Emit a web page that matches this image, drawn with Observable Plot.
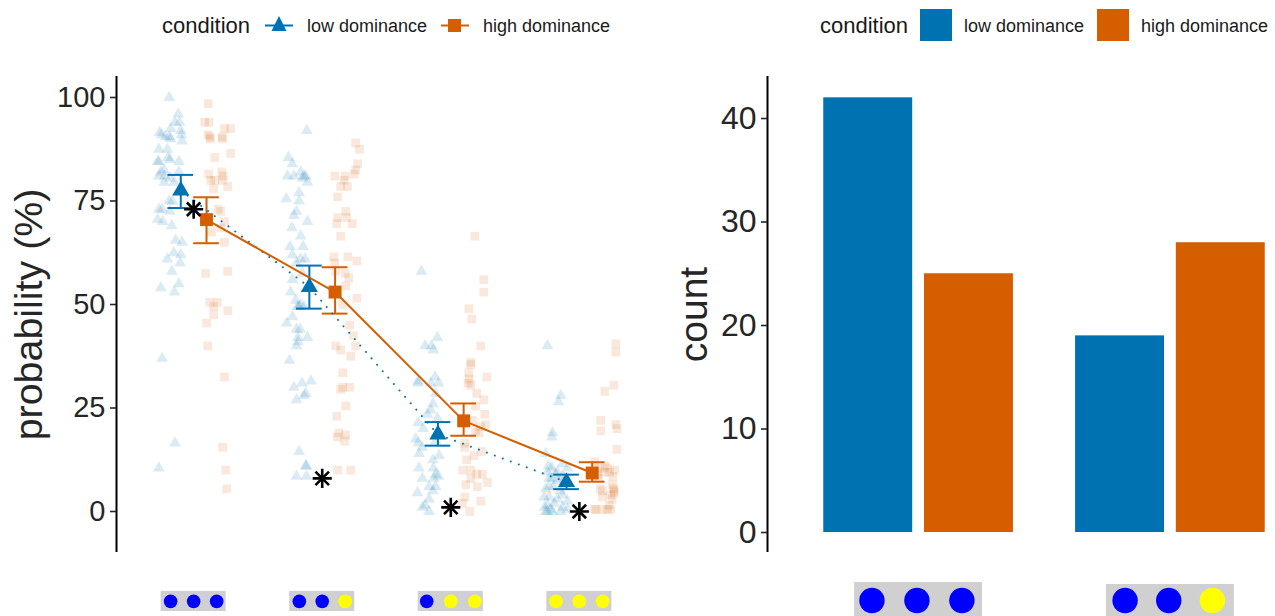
<!DOCTYPE html>
<html><head><meta charset="utf-8">
<script src="https://cdn.jsdelivr.net/npm/d3@7"></script>
<script src="https://cdn.jsdelivr.net/npm/@observablehq/plot@0.6"></script>
<style>
html,body{margin:0;padding:0;background:#fff;}
#page{position:relative;width:1275px;height:616px;overflow:hidden;font-family:"Liberation Sans",Arial,sans-serif;color:#1a1a1a;}
.lg{position:absolute;line-height:1;white-space:nowrap;}
.sw{position:absolute;width:32px;height:32px;top:9px;}
</style></head><body><div id="page"></div>
<script>
const conditions = ["low dominance", "high dominance"];
const blue = "#0072B2", orange = "#D55E00";
const probTicks = [0, 25, 50, 75, 100];
const countTicks = [0, 10, 20, 30, 40];

// observations: [jittered group position, probability %]
const lowPoints = [
 // group 1
 [.81,100],[.88,96],[.855,94],[.89,94],[.82,92.5],[.735,91.5],[.90,92],[.75,91],[.81,90.5],[.78,90.5],[.905,91],[.82,90],[.91,89.5],[.73,87.5],[.795,87.5],[.72,84.5],[.80,85.5],[.815,85],[.885,84.5],[.73,84.5],[.885,82],[.77,82.5],[.745,82],[.73,81],[.775,81],[.815,80.5],[.77,79.5],[.85,79.5],[.81,75],[.835,75],[.73,73],[.755,73],[.815,72.5],[.72,70.5],[.76,70],[.83,69],[.86,65.5],[.91,65],[.845,62.5],[.90,62],[.795,61],[.895,60],[.83,58],[.885,55],[.745,54],[.85,53],[.755,37],[.855,16.5],[.73,10.5],
 // group 2
 [1.88,92],[1.737,85.5],[1.768,84],[1.833,82],[1.78,81],[1.729,81],[1.859,81],[1.872,81],[1.846,80.5],[1.885,79.5],[1.82,77],[1.721,75.5],[1.82,75],[1.80,72.5],[1.78,71.5],[1.885,70],[1.765,68.5],[1.833,66.5],[1.75,64],[1.851,64],[1.768,62],[1.833,61],[1.867,61],[1.80,60],[1.846,57.5],[1.768,56],[1.755,53],[1.794,51],[1.807,49.5],[1.859,49.5],[1.833,50],[1.82,49.5],[1.768,47],[1.724,45.5],[1.80,44],[1.828,44],[1.812,42],[1.885,42],[1.812,41],[1.80,40],[1.745,36.5],[1.78,30],[1.843,31],[1.913,31.5],[1.872,28.5],[1.859,28],[1.80,27],[1.82,14.5],[1.872,11],[1.877,11],[1.80,8.5],[1.877,8.5],
 // group 3
 [2.772,58],[2.896,42],[2.80,40],[2.85,40],[2.865,39],[2.746,31.5],[2.878,32.5],[2.844,31],[2.904,31],[2.746,31],[2.883,28.5],[2.862,26],[2.844,24.5],[2.818,23.5],[2.896,22.5],[2.746,21.5],[2.785,20],[2.728,17.5],[2.746,16.5],[2.779,15.5],[2.753,14],[2.883,17],[2.909,13.5],[2.862,12.5],[2.753,10.5],[2.865,10.5],[2.883,9],[2.904,8.5],[2.779,8],[2.87,8],[2.831,6],[2.883,6],[2.74,4.5],[2.862,5],[2.831,3],[2.80,1.5],[2.779,1],[2.831,0],
 // group 4
 [3.752,40],[3.856,28],[3.838,26.5],[3.791,19],[3.786,18],[3.739,14],[3.786,10.5],[3.869,11.5],[3.752,9.5],[3.83,9.5],[3.908,10.5],[3.765,8],[3.869,8.5],[3.83,7.5],[3.739,5.5],[3.765,6],[3.882,6],[3.726,3.5],[3.765,3.5],[3.869,4],[3.908,2.5],[3.804,2],[3.752,1.5],[3.778,.5],[3.739,0],[3.869,1],[3.908,.5],[3.856,0],[3.786,8],[3.80,6],[3.83,3],[3.75,0],[3.85,5],[3.76,11],[3.815,9],[3.79,0],[3.73,1],[3.885,8]
];
const highPoints = [
 // group 1
 [1.114,98.5],[1.086,94],[1.12,94],[1.24,92.5],[1.288,92.5],[1.112,91],[1.127,90.5],[1.13,90],[1.223,90.5],[1.223,90],[1.288,86.5],[1.164,85.5],[1.117,81.5],[1.218,82],[1.231,81],[1.223,80],[1.133,80],[1.164,80],[1.265,78.5],[1.156,78],[1.19,73],[1.21,72.5],[1.24,70],[1.21,68.5],[1.14,67.5],[1.24,65],[1.265,58],[1.094,57.5],[1.125,50.5],[1.184,50.5],[1.156,49.5],[1.265,48.5],[1.156,47.5],[1.10,45.5],[1.11,40],[1.24,32.5],[1.226,15.5],[1.249,10],[1.257,5.5],
 // group 2
 [2.26,89],[2.29,87.5],[2.276,84],[2.26,82.5],[2.248,81.5],[2.098,81],[2.178,81],[2.17,80],[2.144,78.5],[2.196,78.5],[2.12,76],[2.183,72.5],[2.19,71],[2.12,71],[2.113,69.5],[2.235,69.5],[2.144,66.5],[2.09,61.5],[2.199,61.5],[2.269,60.5],[2.098,60],[2.105,58],[2.178,57.5],[2.206,56.5],[2.183,54.5],[2.269,51.5],[2.16,50],[2.214,45],[2.243,42.5],[2.105,40],[2.144,39],[2.26,40],[2.222,37.5],[2.16,33.5],[2.16,30],[2.214,30],[2.144,29.5],[2.183,25.5],[2.113,23],[2.129,19],[2.183,18.5],[2.118,18],[2.175,17],[2.12,10],[2.222,10],
 // group 3
 [3.187,66.5],[3.257,56],[3.257,53],[3.14,49],[3.163,46.5],[3.233,40],[3.156,36],[3.156,35.5],[3.28,32.5],[3.14,33.5],[3.143,32],[3.135,31],[3.156,30.5],[3.202,28.5],[3.257,27],[3.194,25.5],[3.264,23.5],[3.169,22],[3.272,21],[3.233,20.5],[3.194,19.5],[3.22,19],[3.109,16.5],[3.109,15.5],[3.239,14.5],[3.18,13.5],[3.124,12.5],[3.093,10],[3.156,10],[3.246,9],[3.202,9],[3.156,8],[3.285,7],[3.117,6.5],[3.207,6],[3.109,3.5],[3.233,2.5],[3.091,2],[3.148,0],
 // group 4
 [4.284,40.5],[4.284,38.5],[4.268,30.5],[4.198,29],[4.167,22],[4.167,19.5],[4.284,21],[4.292,20],[4.292,15],[4.12,12],[4.154,10.5],[4.219,10.5],[4.276,10],[4.193,9.5],[4.141,9],[4.258,6.5],[4.162,5.5],[4.18,5],[4.266,5.5],[4.271,4.5],[4.245,4],[4.18,3.5],[4.115,.5],[4.18,.5],[4.232,1.5],[4.245,.5],[4.219,.5],[4.13,.5],[4.27,5],[4.255,3],[4.2,11],[4.235,9.5],[4.15,8],[4.26,8.5]
];

const lowMean  = [77.5, 54.2, 18.6, 7.1];
const lowHi    = [81.3, 59.4, 21.6, 8.9];
const lowLo    = [73.3, 49.0, 15.9, 5.4];
const highMean = [70.5, 53.0, 21.9, 9.3];
const highHi   = [75.9, 59.0, 26.1, 11.9];
const highLo   = [64.8, 47.8, 18.3, 7.2];
const starValues = [73, 8, 1, 0];

const groupDots = [
 ["blue","blue","blue"],
 ["blue","blue","yellow"],
 ["blue","yellow","yellow"],
 ["yellow","yellow","yellow"]
];
const keySpread = [0.179, 0.178, 0.187, 0.181];
const barGroups = [1, 2];
const barLow = [42, 19];
const barHigh = [25, 28];
const barDots = [["blue","blue","blue"],["blue","blue","yellow"]];
const barKeySpread = [0.1786, 0.1734];

const groups = [1, 2, 3, 4];
const dodge = 0.1;
const toRows = (mean, hi, lo, side) => groups.map((g, i) => ({x: g + side * dodge, g, m: mean[i], hi: hi[i], lo: lo[i]}));
const lowRows = toRows(lowMean, lowHi, lowLo, -1);
const highRows = toRows(highMean, highHi, highLo, 1);

const keyRects = groupDots.map((d, i) => ({g: groups[i]}));
const keyCircles = groupDots.flatMap((cols, i) => cols.map((c, j) => ({x: groups[i] + (j - 1) * keySpread[i], c})));

function errorMarks(rows, color) {
  return [
    Plot.ruleX(rows, {x: "x", y1: "lo", y2: "hi", stroke: color, strokeWidth: 2}),
    Plot.ruleY(rows, {y: "hi", x1: d => d.x - dodge, x2: d => d.x + dodge, stroke: color, strokeWidth: 2}),
    Plot.ruleY(rows, {y: "lo", x1: d => d.x - dodge, x2: d => d.x + dodge, stroke: color, strokeWidth: 2})
  ];
}

const textColor = "#262626";
const left = Plot.plot({
  width: 660, height: 616,
  marginLeft: 116, marginRight: 4, marginTop: 76, marginBottom: 0,
  style: {background: "transparent", fontFamily: '"Liberation Sans", Arial, sans-serif'},
  x: {domain: [0.4, 4.6], axis: null},
  y: {domain: [-25.36, 105.07], axis: null},
  color: {type: "identity"},
  marks: [
    Plot.dot(lowPoints, {x: d => d[0], y: d => d[1], symbol: "triangle", r: 4.4, fill: blue, fillOpacity: 0.14, stroke: "none"}),
    Plot.dot(highPoints, {x: d => d[0], y: d => d[1], symbol: "square", r: 4.9, fill: orange, fillOpacity: 0.14, stroke: "none"}),
    ...errorMarks(lowRows, blue),
    ...errorMarks(highRows, orange),
    Plot.line(lowRows, {x: "x", y: "m", stroke: blue, strokeWidth: 2, strokeLinecap: "round", strokeDasharray: "0.01,8.5"}),
    Plot.line(highRows, {x: "x", y: "m", stroke: orange, strokeWidth: 2}),
    Plot.dot(lowRows, {x: "x", y: "m", symbol: "triangle", r: 6.4, fill: blue, stroke: "none"}),
    Plot.dot(highRows, {x: "x", y: "m", symbol: "square", r: 7.3, fill: orange, stroke: "none"}),
    Plot.dot(groups, {x: d => d, y: (d, i) => starValues[i], symbol: "plus", r: 6.2, stroke: "#000", strokeWidth: 2.6}),
    Plot.dot(groups, {x: d => d, y: (d, i) => starValues[i], symbol: "times", r: 6.2, stroke: "#000", strokeWidth: 2.6}),
    Plot.ruleX([0.4], {y1: -9.9, y2: 105.07, stroke: "#000", strokeWidth: 2}),
    Plot.axisY({ticks: probTicks, tickSize: 6, tickPadding: 5, fontSize: 29, label: null, color: textColor, strokeWidth: 1.6}),
    Plot.text(["probability (%)"], {x: 0.4, y: 47.6, dx: -74.5, rotate: -90, fontSize: 39.4, fill: textColor, textAnchor: "middle", lineAnchor: "bottom"}),
    Plot.rect(keyRects, {x1: d => d.g - 0.253, x2: d => d.g + 0.253, y1: -19.3, y2: -24.15, fill: "#D0D0D0"}),
    Plot.dot(keyCircles, {x: "x", y: -21.7, r: 6.8, fill: "c", stroke: "none"})
  ]
});
left.style.left = "0px";
left.style.position = "absolute";

const barRows = barGroups.flatMap((g, i) => [
  {g, off: -0.2, v: barLow[i], c: blue},
  {g, off: 0.2, v: barHigh[i], c: orange}
]);
const barKeyDots = barDots.flatMap((cols, i) => cols.map((c, j) => ({x: barGroups[i] - 0.0066 + (j - 1) * barKeySpread[i], c})));
const right = Plot.plot({
  width: 615, height: 616,
  marginLeft: 107, marginRight: 0, marginTop: 76, marginBottom: 0,
  style: {background: "transparent", fontFamily: '"Liberation Sans", Arial, sans-serif'},
  x: {domain: [0.4, 2.6], range: [107, 661], axis: null},
  y: {domain: [-8.116, 44.06], axis: null},
  color: {type: "identity"},
  marks: [
    Plot.rect(barRows, {x1: d => d.g + d.off - 0.1766, x2: d => d.g + d.off + 0.1766, y1: 0, y2: "v", fill: "c"}),
    Plot.ruleX([0.4], {y1: -1.93, y2: 44.06, stroke: "#000", strokeWidth: 2}),
    Plot.axisY({ticks: countTicks, tickSize: 6, tickPadding: 5, fontSize: 32, label: null, color: textColor, strokeWidth: 1.6}),
    Plot.text(["count"], {x: 0.4, y: 21.06, dx: -61, rotate: -90, fontSize: 39, fill: textColor, textAnchor: "middle", lineAnchor: "bottom"}),
    Plot.rect(barGroups, {x1: d => d - 0.254, x2: d => d + 0.254, y1: (d, i) => i ? -5.02 : -4.83, y2: -8.116, fill: "#D0D0D0"}),
    Plot.dot(barKeyDots, {x: "x", y: -6.57, r: 12.7, fill: "c", stroke: "none"})
  ]
});
right.style.left = "660px";
right.style.position = "absolute";

const page = document.getElementById("page");
page.append(left, right);

function label(text, x, size) {
  const d = document.createElement("div");
  d.className = "lg"; d.textContent = text;
  d.style.left = x + "px"; d.style.top = Math.round(26 - size / 2) + "px"; d.style.fontSize = size + "px";
  page.append(d);
}
label("condition", 162, 22);
label(conditions[0], 307, 18);
label(conditions[1], 483, 18);
label("condition", 820, 22);
label(conditions[0], 964, 18);
label(conditions[1], 1141, 18);
[[920, blue], [1097, orange]].forEach(([x, c]) => {
  const s = document.createElement("div");
  s.className = "sw"; s.style.left = x + "px"; s.style.background = c;
  page.append(s);
});
const key = d3.select(page).append("svg").attr("width", 640).attr("height", 50)
  .style("position", "absolute").style("left", 0).style("top", 0);
key.append("line").attr("x1", 265).attr("x2", 293).attr("y1", 25.5).attr("y2", 25.5).attr("stroke", blue).attr("stroke-width", 2);
key.append("path").attr("d", "M279,16L286.5,31L271.5,31Z").attr("fill", blue);
key.append("line").attr("x1", 441).attr("x2", 469).attr("y1", 25.5).attr("y2", 25.5).attr("stroke", orange).attr("stroke-width", 2);
key.append("rect").attr("x", 448).attr("y", 19).attr("width", 13).attr("height", 13).attr("fill", orange);
</script></body></html>
